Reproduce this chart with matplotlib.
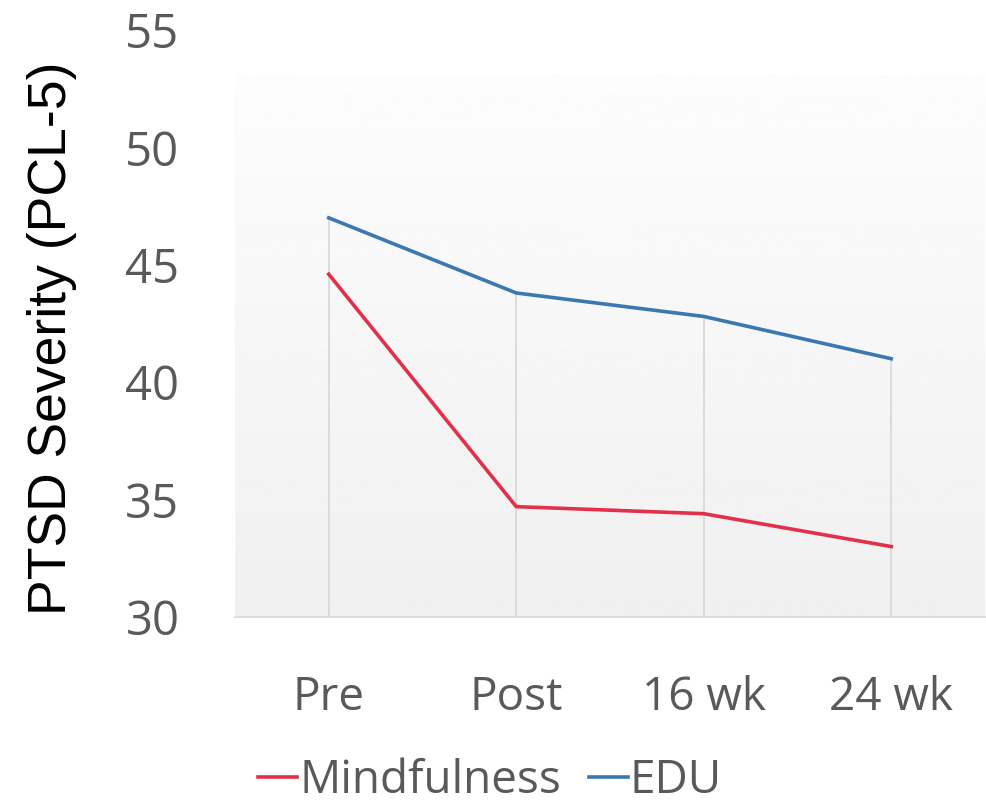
import matplotlib
matplotlib.use('Agg')
import matplotlib.pyplot as plt
import numpy as np

# data
timepoints = ['Pre', 'Post', '16 wk', '24 wk']
mindfulness = [44.6, 34.7, 34.4, 33.0]
edu = [47.0, 43.8, 42.8, 41.0]
y_ticks = [30, 35, 40, 45, 50, 55]

red = '#E2304A'
blue = '#3A78B2'
grey_txt = '#595959'

fig = plt.figure(figsize=(9.86, 8.07), dpi=100)
ax = fig.add_axes([235 / 986, 190 / 807, 750 / 986, 587 / 807])
ax.set_facecolor('none')

x = np.arange(len(timepoints))
ax.set_xlim(-0.5, len(timepoints) - 0.5)
ax.set_ylim(30, 55)

# plot area with a light vertical gradient (stops below the 55 line)
grad = np.linspace(0.99, 0.94, 256).reshape(-1, 1)
ax.imshow(grad, cmap='gray', vmin=0, vmax=1, aspect='auto',
          extent=(-0.5, len(timepoints) - 0.5, 30, 53.1), origin='upper', zorder=0)

# drop lines
tops = np.maximum(mindfulness, edu)
ax.vlines(x, 30, tops, color='#d9d9d9', lw=1.3, zorder=1)

ax.plot(x, mindfulness, color=red, lw=2.6, label='Mindfulness', zorder=3)
ax.plot(x, edu, color=blue, lw=2.6, label='EDU', zorder=3)

for s in ['top', 'right', 'left']:
    ax.spines[s].set_visible(False)
ax.spines['bottom'].set_color('#d9d9d9')
ax.spines['bottom'].set_linewidth(1.3)

ax.set_xticks(x)
ax.set_xticklabels(timepoints)
ax.set_yticks(y_ticks)
ax.tick_params(axis='both', length=0, labelsize=34, labelcolor=grey_txt)
ax.tick_params(axis='y', pad=40)
ax.tick_params(axis='x', pad=42, labelsize=33)
for lab in ax.get_xticklabels() + ax.get_yticklabels():
    lab.set_fontfamily('Open Sans')

fig.text(52 / 986, 1 - 338 / 807, 'PTSD Severity (PCL-5)', rotation=90,
         ha='center', va='center', fontsize=38.5, family='Liberation Sans', color='black')

leg = fig.legend(loc='center', bbox_to_anchor=(490 / 986, 1 - 781 / 807), ncol=2,
                 frameon=False, handlelength=0.85, handletextpad=0.05, columnspacing=0.6,
                 borderpad=0.1, prop={'family': 'Open Sans', 'size': 33})
for t in leg.get_texts():
    t.set_color(grey_txt)

fig.savefig('out.png', dpi=100)
